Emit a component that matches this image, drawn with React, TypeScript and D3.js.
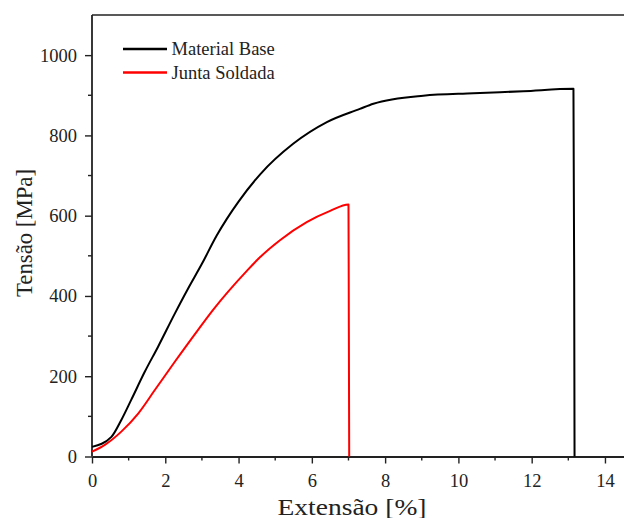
import React, { useEffect, useRef } from 'react';
import * as d3 from 'd3';

// Material Base (black)
const baseStrain = [0, 0.53, 0.8, 1.07, 1.44, 1.8, 2.26, 2.62, 3.0, 3.4, 3.68, 4.0, 4.59, 5.49, 6.41, 7.31, 7.68, 9.04, 10.41, 11.77, 13.14, 13.16, 13.17];
const baseStress = [24, 49, 91, 141, 211, 273, 356, 418, 480, 550, 592, 635, 703, 779, 833, 866, 879, 899, 905, 910, 916, 450, 0];

// Junta Soldada (red)
const weldStrain = [0, 0.35, 0.8, 1.26, 1.71, 2.26, 2.89, 3.31, 4.22, 4.59, 5.13, 5.86, 6.5, 7.0, 7.01, 7.02];
const weldStress = [12, 29, 62, 107, 165, 236, 315, 366, 462, 497, 539, 584, 612, 628, 320, 0];

const xTicks = [0, 2, 4, 6, 8, 10, 12, 14];
const xMinor = [1, 3, 5, 7, 9, 11, 13];
const yTicks = [0, 200, 400, 600, 800, 1000];
const yMinor = [100, 300, 500, 700, 900];

const legendNames = ['Material Base', 'Junta Soldada'];
const legendColors = ['#000000', '#ff0000'];

const Chart = () => {
  const svgRef = useRef<SVGSVGElement>(null);

  useEffect(() => {
    const svg = d3.select(svgRef.current);
    svg.selectAll('*').remove();

    const left = 92, top = 15, bottom = 456.5;
    const x = d3.scaleLinear().domain([0, 15]).range([left, left + 15 * 36.64]);
    const y = d3.scaleLinear().domain([0, 1100]).range([bottom, top]);
    const font = '"Liberation Serif", "Times New Roman", serif';

    // frame: top line, left, bottom
    svg.append('line').attr('x1', left).attr('x2', 640).attr('y1', top).attr('y2', top)
      .attr('stroke', '#222').attr('stroke-width', 1.6);

    const xAxis = svg.append('g').attr('transform', `translate(0,${bottom})`)
      .call(d3.axisBottom(x).tickValues(xTicks).tickFormat(d3.format('d')).tickSize(7).tickPadding(10).tickSizeOuter(0));
    xAxis.append('g').selectAll('line').data(xMinor).enter().append('line')
      .attr('x1', d => x(d)).attr('x2', d => x(d)).attr('y1', 0).attr('y2', 4)
      .attr('stroke', '#222').attr('stroke-width', 1.4);

    const yAxis = svg.append('g').attr('transform', `translate(${left},0)`)
      .call(d3.axisLeft(y).tickValues(yTicks).tickFormat(d3.format('d')).tickSize(7).tickPadding(8).tickSizeOuter(0));
    yAxis.append('g').selectAll('line').data(yMinor).enter().append('line')
      .attr('y1', d => y(d)).attr('y2', d => y(d)).attr('x1', 0).attr('x2', -4)
      .attr('stroke', '#222').attr('stroke-width', 1.4);

    [xAxis, yAxis].forEach(g => {
      g.attr('font-family', null).style('font-family', font).attr('font-size', 18.5);
      g.select('.domain').attr('stroke', '#222').attr('stroke-width', 1.8);
      g.selectAll('.tick line').attr('stroke', '#222').attr('stroke-width', 1.4);
      g.selectAll('.tick text').style('font-family', font).attr('fill', '#222');
    });
    yAxis.select('.domain').attr('d', `M0,${bottom}V${top}`);

    const series = [
      { xs: baseStrain, ys: baseStress, color: legendColors[0] },
      { xs: weldStrain, ys: weldStress, color: legendColors[1] },
    ];
    series.slice().reverse().forEach(s => {
      const pts = s.xs.map((v, i) => [x(v), y(s.ys[i])] as [number, number]);
      svg.append('path')
        .attr('d', d3.line().curve(d3.curveMonotoneX)(pts))
        .attr('fill', 'none').attr('stroke', s.color).attr('stroke-width', 2)
        .attr('stroke-linejoin', 'round');
    });

    // legend
    const lg = svg.append('g');
    legendNames.forEach((name, i) => {
      const ly = 49 + i * 23.5;
      lg.append('line').attr('x1', 123).attr('x2', 167).attr('y1', ly).attr('y2', ly)
        .attr('stroke', legendColors[i]).attr('stroke-width', 2.4);
      lg.append('text').attr('x', 171.5).attr('y', ly + 6).text(name)
        .style('font-family', font).attr('font-size', 18.5).attr('fill', '#222');
    });

    // axis titles
    svg.append('text').attr('x', 352).attr('y', 515).attr('text-anchor', 'middle')
      .style('font-family', font).attr('font-size', 23).attr('fill', '#222')
      .attr('textLength', 149).attr('lengthAdjust', 'spacingAndGlyphs').text('Extensão [%]');
    svg.append('text').attr('transform', 'translate(32,233) rotate(-90)').attr('text-anchor', 'middle')
      .style('font-family', font).attr('font-size', 24).attr('fill', '#222')
      .attr('textLength', 128).attr('lengthAdjust', 'spacingAndGlyphs').text('Tensão [MPa]');
  }, []);

  return <svg ref={svgRef} width={632} height={526} style={{ display: 'block' }} />;
};

export default function App() {
  return (
    <div style={{ margin: -8, width: 632, height: 526, overflow: 'hidden', background: '#fff' }}>
      <Chart />
    </div>
  );
}
